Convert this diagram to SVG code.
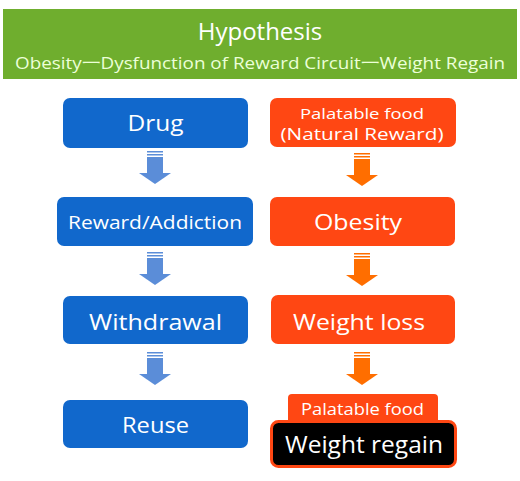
<svg xmlns="http://www.w3.org/2000/svg" xmlns:xlink="http://www.w3.org/1999/xlink" width="520" height="481" viewBox="0 0 520 481">
<style>
.t{font-family:"Open Sans","Noto Sans","Liberation Sans",sans-serif;fill:#ffffff;text-anchor:middle}
.blue{fill:#1168cc}
.orange{fill:#ff4713}
</style>
<defs>
<g id="arr">
<rect x="-8" y="0" width="16" height="1.5"/>
<rect x="-8" y="3" width="16" height="1.5"/>
<rect x="-8" y="6" width="16" height="17"/>
<polygon points="-16,22 16,22 0,33"/>
</g>
</defs>
<rect width="520" height="481" fill="#ffffff"/>
<g id="title">
<rect x="3" y="9" width="514" height="70" fill="#6fae2e"/>
<text class="t" x="260" y="40" font-size="24">Hypothesis</text>
<text class="t" x="260" y="69" font-size="17" style="fill:#ecffd8" textLength="490" lengthAdjust="spacingAndGlyphs">Obesity一Dysfunction of Reward Circuit一Weight Regain</text>
</g>
<g id="connectors">
<use xlink:href="#arr" x="155" y="151" fill="#5b8dd8"/>
<use xlink:href="#arr" x="155" y="252" fill="#5b8dd8"/>
<use xlink:href="#arr" x="155" y="352" fill="#5b8dd8"/>
<use xlink:href="#arr" x="362" y="153" fill="#ff6e00"/>
<use xlink:href="#arr" x="362" y="253" fill="#ff6e00"/>
<use xlink:href="#arr" x="362" y="352" fill="#ff6e00"/>
</g>
<g id="drug">
<rect class="blue" x="63" y="98" width="185" height="50" rx="7"/>
<text class="t" x="155.5" y="131" font-size="22" textLength="56" lengthAdjust="spacingAndGlyphs">Drug</text>
</g>
<g id="reward">
<rect class="blue" x="57" y="197" width="196" height="49" rx="7"/>
<text class="t" x="155" y="229" font-size="19" textLength="174" lengthAdjust="spacingAndGlyphs">Reward/Addiction</text>
</g>
<g id="withdrawal">
<rect class="blue" x="63" y="296" width="185" height="48" rx="7"/>
<text class="t" x="155.5" y="330" font-size="22" textLength="133" lengthAdjust="spacingAndGlyphs">Withdrawal</text>
</g>
<g id="reuse">
<rect class="blue" x="63" y="400" width="185" height="48" rx="7"/>
<text class="t" x="155.5" y="433" font-size="22" textLength="67" lengthAdjust="spacingAndGlyphs">Reuse</text>
</g>
<g id="palatable">
<rect class="orange" x="270" y="98" width="186" height="49" rx="7"/>
<text class="t" x="362" y="119" font-size="15" textLength="124" lengthAdjust="spacingAndGlyphs">Palatable food</text>
<text class="t" x="362" y="140" font-size="17" textLength="163" lengthAdjust="spacingAndGlyphs">(Natural Reward)</text>
</g>
<g id="obesity">
<rect class="orange" x="270" y="197" width="185" height="49" rx="7"/>
<text class="t" x="358" y="230" font-size="22" textLength="88" lengthAdjust="spacingAndGlyphs">Obesity</text>
</g>
<g id="weightloss">
<rect class="orange" x="271" y="295" width="184" height="49" rx="7"/>
<text class="t" x="359" y="330" font-size="22" textLength="132" lengthAdjust="spacingAndGlyphs">Weight loss</text>
</g>
<g id="palatable2">
<rect class="orange" x="288" y="394" width="150" height="30" rx="4"/>
<text class="t" x="362.5" y="415" font-size="16" textLength="123" lengthAdjust="spacingAndGlyphs">Palatable food</text>
</g>
<g id="regain">
<rect x="271.5" y="421.5" width="184" height="45" rx="7" fill="#000000" stroke="#ff4713" stroke-width="3"/>
<text class="t" x="364" y="453" font-size="24" textLength="158" lengthAdjust="spacingAndGlyphs">Weight regain</text>
</g>
</svg>
